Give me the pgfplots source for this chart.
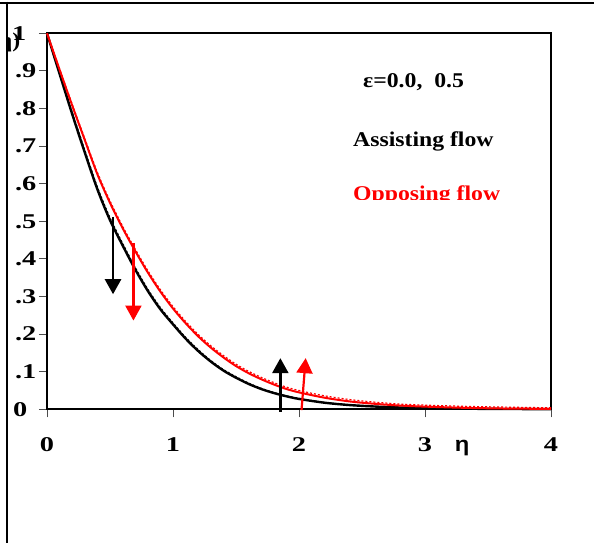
\documentclass[border=0pt]{standalone}
\usepackage{fontspec}
\setmainfont{Liberation Serif}[FakeStretch=1.13]
\newfontfamily\tickfont{Liberation Serif}[FakeStretch=1.35]
\newfontfamily\etafont{Liberation Sans}[FakeStretch=1.13]
\usepackage{pgfplots}
\pgfplotsset{compat=1.18}
\usetikzlibrary{arrows.meta}

% Temperature profiles theta(eta), assisting flow (eps = 0.0 solid, 0.5 dashed)
\pgfplotstableread{
eta   th
0.0   1.000
0.1   0.892
0.2   0.785
0.3   0.683
0.4   0.585
0.5   0.503
0.6   0.436
0.7   0.372
0.8   0.315
0.9   0.266
1.0   0.226
1.1   0.188
1.2   0.155
1.3   0.127
1.4   0.103
1.5   0.084
1.6   0.0675
1.7   0.054
1.8   0.0433
1.9   0.0346
2.0   0.0276
2.2   0.0176
2.4   0.0113
2.6   0.0074
2.8   0.0048
3.0   0.0032
3.3   0.0017
3.6   0.0009
4.0   0.0004
}\assistA
\pgfplotstableread{
eta   th
0.0   1.000
0.1   0.896
0.2   0.791
0.3   0.690
0.4   0.592
0.5   0.510
0.6   0.442
0.7   0.378
0.8   0.320
0.9   0.271
1.0   0.230
1.1   0.192
1.2   0.159
1.3   0.130
1.4   0.106
1.5   0.087
1.6   0.070
1.7   0.056
1.8   0.045
1.9   0.036
2.0   0.029
2.2   0.0185
2.4   0.012
2.6   0.008
2.8   0.005
3.0   0.0034
3.3   0.0018
3.6   0.001
4.0   0.0005
}\assistB
% Opposing flow (eps = 0.0 solid, 0.5 dashed)
\pgfplotstableread{
eta   th
0.0   1.000
0.1   0.903
0.2   0.808
0.3   0.716
0.4   0.625
0.5   0.549
0.6   0.482
0.7   0.421
0.8   0.364
0.9   0.313
1.0   0.268
1.1   0.229
1.2   0.194
1.3   0.164
1.4   0.138
1.5   0.115
1.6   0.096
1.7   0.080
1.8   0.066
1.9   0.054
2.0   0.045
2.2   0.031
2.4   0.021
2.6   0.0146
2.8   0.010
3.0   0.0071
3.3   0.004
3.6   0.0022
4.0   0.001
}\opposeA
\pgfplotstableread{
eta   th
0.0   1.000
0.1   0.905
0.2   0.811
0.3   0.720
0.4   0.630
0.5   0.554
0.6   0.487
0.7   0.426
0.8   0.369
0.9   0.318
1.0   0.273
1.1   0.234
1.2   0.199
1.3   0.169
1.4   0.143
1.5   0.120
1.6   0.101
1.7   0.085
1.8   0.071
1.9   0.059
2.0   0.050
2.2   0.036
2.4   0.026
2.6   0.019
2.8   0.014
3.0   0.011
3.3   0.008
3.6   0.006
4.0   0.004
}\opposeB

\begin{document}
\begin{tikzpicture}
\useasboundingbox (0pt,0pt) rectangle (594pt,543pt);
\begin{axis}[
  at={(47pt,133.7pt)}, anchor=south west,
  scale only axis, width=504pt, height=376pt,
  xmin=0, xmax=4, ymin=0, ymax=1,
  xtick={0,1,2,3,4},
  ytick={0,0.1,0.2,0.3,0.4,0.5,0.6,0.7,0.8,0.9,1},
  yticklabels={{0\rule{9pt}{0pt}},.1,.2,.3,.4,.5,.6,.7,.8,.9,{1\rule{10pt}{0pt}}},
  xtick pos=bottom, ytick pos=left,
  tick align=outside, major tick length=8pt,
  tick style={line width=0.8pt, black!70},
  axis line style={line width=2pt},
  /pgf/number format/assume math mode=true,
  ticklabel style={font=\fontsize{21}{21}\selectfont\tickfont\bfseries},
  yticklabel style={anchor=east, inner sep=0pt, xshift=-2.5pt},
  xticklabel style={anchor=north, inner sep=0pt, yshift=-20pt},
  clip=false,
]
\addplot[black, line width=2.4pt, smooth] table[x=eta, y=th] {\assistA};
\addplot[black, line width=1pt, smooth, dash pattern=on 2pt off 2pt] table[x=eta, y=th] {\assistB};
\addplot[red, line width=2pt, smooth] table[x=eta, y=th] {\opposeA};
\addplot[red, line width=1.2pt, smooth, dash pattern=on 2pt off 2pt] table[x=eta, y=th] {\opposeB};

\draw[black, line width=2.4pt, -{Triangle[width=16pt,length=15pt]}] (axis cs:0.524,0.512) -- (axis cs:0.524,0.306);
\draw[red, line width=2.2pt, -{Triangle[width=16pt,length=15pt]}] (axis cs:0.686,0.441) -- (axis cs:0.686,0.236);
\draw[black, line width=2.4pt, -{Triangle[width=16pt,length=15pt]}] (axis cs:1.852,-0.006) -- (axis cs:1.852,0.136);
\draw[red, line width=2.2pt, -{Triangle[width=16pt,length=15pt]}] (axis cs:2.02,-0.002) -- (axis cs:2.053,0.136);
\end{axis}

% annotations
\node[anchor=base west, inner sep=0pt, font=\fontsize{21}{21}\selectfont\bfseries] at (363pt,455pt) {ε=0.0,\ \ 0.5};
\node[anchor=base west, inner sep=0pt, font=\fontsize{21}{21}\selectfont\bfseries] at (353pt,396pt) {Assisting flow};
\begin{scope}
  \clip (340pt,343pt) rectangle (520pt,370pt);
  \node[anchor=base west, inner sep=0pt, red, font=\fontsize{21}{21}\selectfont\bfseries] at (353pt,342pt) {Opposing flow};
\end{scope}
\node[anchor=base, inner sep=0pt, font=\fontsize{21}{21}\selectfont\etafont\bfseries] at (462pt,91pt) {η};
\begin{scope}
  \clip (8.3pt,480pt) rectangle (40pt,540pt);
  \node[anchor=base east, inner sep=0pt, font=\fontsize{21}{21}\selectfont\bfseries] at (20.5pt,495pt) {θ(η)};
\end{scope}

% frame
\draw[line width=2pt] (0pt,540.3pt) -- (594pt,540.3pt);
\draw[line width=2pt] (7.3pt,541.3pt) -- (7.3pt,0pt);
\end{tikzpicture}
\end{document}
